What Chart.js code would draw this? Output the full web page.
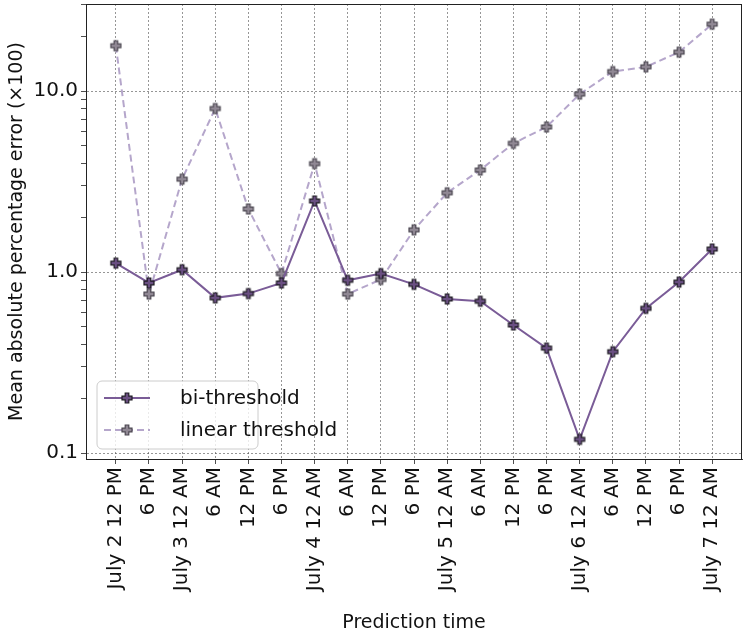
<!DOCTYPE html>
<html>
<head>
<meta charset="utf-8">
<script src="https://cdn.jsdelivr.net/npm/chart.js@4.4.1/dist/chart.umd.min.js"></script>
<style>
  html, body { margin: 0; padding: 0; background: #fff; overflow: hidden; }
  #wrap { width: 750px; height: 638px; position: relative; top: -4px; }
</style>
</head>
<body>
<div id="wrap"><canvas id="chart"></canvas></div>
<script>
// data
const timeLabels = ['July 2 12 PM', '6 PM', 'July 3 12 AM', '6 AM', '12 PM', '6 PM',
  'July 4 12 AM', '6 AM', '12 PM', '6 PM', 'July 5 12 AM', '6 AM', '12 PM', '6 PM',
  'July 6 12 AM', '6 AM', '12 PM', '6 PM', 'July 7 12 AM'];
const biThreshold = [1.12, 0.87, 1.03, 0.72, 0.76, 0.87, 2.47, 0.90, 0.98, 0.855,
  0.71, 0.69, 0.51, 0.38, 0.119, 0.363, 0.63, 0.88, 1.34];
const linearThreshold = [17.8, 0.756, 3.26, 8.0, 2.23, 0.98, 3.97, 0.756, 0.91, 1.71,
  2.74, 3.66, 5.14, 6.33, 9.62, 12.8, 13.6, 16.4, 23.4];
const majorTicks = [0.1, 1, 10];
const minorTicks = [0.2, 0.3, 0.4, 0.5, 0.6, 0.7, 0.8, 0.9, 2, 3, 4, 5, 6, 7, 8, 9, 20, 30];

const FONT = 'DejaVu Sans';
const isMajor = v => majorTicks.includes(v);

function plusMarker(fill, edge, size) {
  const s = size + 4;
  const c = document.createElement('canvas');
  c.width = s; c.height = s;
  const g = c.getContext('2d');
  const a = size / 2, w = a * 0.36, m = s / 2;
  const pts = [[-w,-a],[w,-a],[w,-w],[a,-w],[a,w],[w,w],[w,a],[-w,a],[-w,w],[-a,w],[-a,-w],[-w,-w]];
  g.beginPath();
  pts.forEach((p, i) => i ? g.lineTo(m + p[0], m + p[1]) : g.moveTo(m + p[0], m + p[1]));
  g.closePath();
  g.fillStyle = fill;
  g.fill();
  g.lineWidth = 1.2;
  g.strokeStyle = edge;
  g.stroke();
  return c;
}

const biMarker = plusMarker('#6a4f82', '#1d1a22', 10);
const linMarker = plusMarker('#908894', '#4b4650', 10);

const frame = {
  id: 'frame',
  afterDraw(chart) {
    const { ctx, chartArea: a } = chart;
    ctx.save();
    ctx.strokeStyle = '#222';
    ctx.lineWidth = 1;
    ctx.strokeRect(a.left + 0.5, a.top + 0.5, a.right - a.left - 1, a.bottom - a.top);
    ctx.restore();
  }
};

// legend box in the lower left corner of the plot, placed from the chart area
const boxLegend = {
  id: 'boxLegend',
  afterDatasetsDraw(chart) {
    const { ctx, chartArea: a } = chart;
    const x = a.left + 11, y = a.bottom - 78, w = 161, h = 68, r = 5;
    ctx.save();
    ctx.beginPath();
    ctx.moveTo(x + r, y);
    ctx.arcTo(x + w, y, x + w, y + h, r);
    ctx.arcTo(x + w, y + h, x, y + h, r);
    ctx.arcTo(x, y + h, x, y, r);
    ctx.arcTo(x, y, x + w, y, r);
    ctx.closePath();
    ctx.fillStyle = 'rgba(255,255,255,0.8)';
    ctx.fill();
    ctx.strokeStyle = '#cccccc';
    ctx.lineWidth = 1;
    ctx.stroke();
    chart.data.datasets.forEach((ds, i) => {
      const ly = y + 17 + i * 32;
      ctx.beginPath();
      ctx.setLineDash(ds.borderDash || []);
      ctx.strokeStyle = ds.borderColor;
      ctx.lineWidth = ds.borderWidth;
      ctx.moveTo(x + 7, ly);
      ctx.lineTo(x + 53, ly);
      ctx.stroke();
      ctx.setLineDash([]);
      const img = ds.pointStyle;
      ctx.drawImage(img, x + 30 - img.width / 2, ly - img.height / 2);
      ctx.fillStyle = '#111';
      ctx.font = '20px "' + FONT + '"';
      ctx.textBaseline = 'middle';
      ctx.fillText(ds.label, x + 83, ly + 1);
    });
    ctx.restore();
  }
};

new Chart(document.getElementById('chart'), {
  type: 'line',
  data: {
    datasets: [{
      label: 'bi-threshold',
      data: biThreshold.map((v, i) => ({ x: i, y: v })),
      borderColor: '#7a5c97',
      borderWidth: 2,
      pointStyle: biMarker,
      pointRadius: 6,
      tension: 0
    }, {
      label: 'linear threshold',
      data: linearThreshold.map((v, i) => ({ x: i, y: v })),
      borderColor: '#b5a6cb',
      borderWidth: 2,
      borderDash: [7, 4],
      pointStyle: linMarker,
      pointRadius: 6,
      tension: 0
    }]
  },
  options: {
    responsive: true,
    maintainAspectRatio: false,
    animation: false,
    layout: { padding: { top: 4, right: 8, left: 0, bottom: 0 } },
    plugins: { legend: { display: false }, tooltip: { enabled: false } },
    scales: {
      x: {
        type: 'linear',
        min: -0.9,
        max: 18.9,
        afterBuildTicks: s => { s.ticks = timeLabels.map((_, i) => ({ value: i })); },
        afterFit: s => { s.height = 175; },
        ticks: {
          autoSkip: false,
          minRotation: 90,
          maxRotation: 90,
          padding: 3,
          color: '#111',
          font: { family: FONT, size: 20 },
          callback: v => timeLabels[v]
        },
        grid: { color: 'rgba(90,90,90,0.8)', tickColor: '#222', tickLength: 5, lineWidth: 0.8 },
        border: { color: '#222', dash: [2, 2] },
        title: {
          display: true,
          text: 'Prediction time',
          color: '#111',
          font: { family: FONT, size: 19 },
          padding: { top: 6, bottom: 0 }
        }
      },
      y: {
        type: 'logarithmic',
        min: 0.0927,
        max: 30.25,
        afterBuildTicks: s => {
          s.ticks = majorTicks.concat(minorTicks).sort((a, b) => a - b).map(v => ({ value: v, major: isMajor(v) }));
        },
        afterFit: s => { s.width = 86; s.paddingTop = 0; s.paddingBottom = 0; },
        ticks: {
          autoSkip: false,
          padding: 3,
          color: '#111',
          font: c => ({ family: FONT, size: (c.tick && isMajor(c.tick.value)) ? 20 : 1 }),
          callback: v => isMajor(v) ? v.toFixed(1) : ''
        },
        grid: {
          color: c => (c.tick && isMajor(c.tick.value)) ? 'rgba(90,90,90,0.8)' : 'rgba(0,0,0,0)',
          tickColor: '#222',
          tickLength: 5,
          lineWidth: 0.8
        },
        border: { color: '#222', dash: [2, 2] },
        title: {
          display: true,
          text: 'Mean absolute percentage error (×100)',
          color: '#111',
          font: { family: FONT, size: 19 },
          padding: { top: 6, bottom: 0 }
        }
      }
    }
  },
  plugins: [frame, boxLegend]
});
</script>
</body>
</html>
